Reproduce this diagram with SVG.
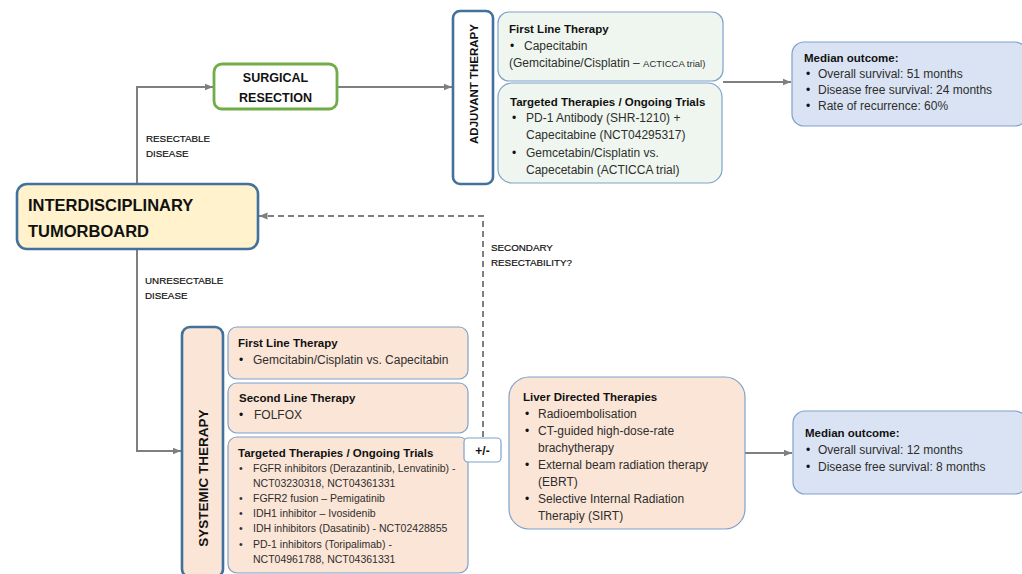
<svg xmlns="http://www.w3.org/2000/svg" width="1022" height="574" viewBox="0 0 1022 574">
<defs>
<marker id="ah" markerUnits="userSpaceOnUse" markerWidth="9" markerHeight="8" refX="8.5" refY="4" orient="auto">
<path d="M0,0.5 L8.5,4 L0,7.5 z" fill="#7f7f7f"/>
</marker>
<style>
text{font-family:"Liberation Sans",Arial,sans-serif;}
.h{font-size:11.5px;font-weight:bold;fill:#111;}
.b{font-size:12px;fill:#2e2e2e;}
.s{font-size:10.5px;fill:#2e2e2e;}
.bl{font-size:12px;fill:#111;}
.lab{font-size:9.8px;fill:#111;stroke:#111;stroke-width:0.2;}
.main{stroke:#41719c;stroke-width:2.6;}
.sub{stroke:#7fa2c9;stroke-width:1.2;}
.green{fill:#eff6ef;}
.peach{fill:#fbe5d6;}
.blue{fill:#dae3f3;}
.conn{fill:none;stroke:#7f7f7f;stroke-width:2;}
</style>
</defs>
<rect width="1022" height="574" fill="#ffffff"/>

<g id="connectors">
<path class="conn" d="M137,184 V87 H213" marker-end="url(#ah)"/>
<path class="conn" d="M337,87 H452" marker-end="url(#ah)"/>
<path class="conn" d="M723,82 H791" marker-end="url(#ah)"/>
<path class="conn" d="M137,249 V451 H181" marker-end="url(#ah)"/>
<path class="conn" d="M483,437 V216 H259" stroke-dasharray="6,4" marker-end="url(#ah)"/>
<path class="conn" d="M745,453 H792" marker-end="url(#ah)"/>
<text class="lab" x="146" y="142">RESECTABLE</text>
<text class="lab" x="146" y="157">DISEASE</text>
<text class="lab" x="145" y="284">UNRESECTABLE</text>
<text class="lab" x="145" y="299">DISEASE</text>
<text class="lab" x="491" y="251">SECONDARY</text>
<text class="lab" x="491" y="266">RESECTABILITY?</text>
</g>

<g id="tumorboard">
<rect class="main" x="17" y="184" width="241" height="65" rx="10" fill="#fff2cc"/>
<text x="28" y="211" font-size="16.5" font-weight="bold" fill="#111">INTERDISCIPLINARY</text>
<text x="28" y="237" font-size="16.5" font-weight="bold" fill="#111">TUMORBOARD</text>
</g>

<g id="surgical-resection">
<rect x="214" y="64" width="123" height="45" rx="8" fill="#ffffff" stroke="#70ad47" stroke-width="2.8"/>
<text x="275.5" y="82" font-size="12.5" font-weight="bold" fill="#111" text-anchor="middle">SURGICAL</text>
<text x="275.5" y="102" font-size="12.5" font-weight="bold" fill="#111" text-anchor="middle">RESECTION</text>
</g>

<g id="adjuvant-therapy">
<rect class="main" x="453" y="11" width="40" height="173" rx="7" fill="#ffffff"/>
<text transform="translate(477.5,84) rotate(-90)" font-size="11.5" font-weight="bold" fill="#111" text-anchor="middle">ADJUVANT THERAPY</text>
</g>

<g id="adjuvant-first-line">
<rect class="sub green" x="498" y="12" width="225" height="69" rx="11"/>
<text class="h" x="509" y="33">First Line Therapy</text>
<text class="bl" x="510" y="50">•</text>
<text class="b" x="524" y="50">Capecitabin</text>
<text class="b" x="509" y="67">(Gemcitabine/Cisplatin – <tspan font-size="9.5">ACTICCA trial)</tspan></text>
</g>

<g id="adjuvant-targeted">
<rect class="sub green" x="498" y="83" width="224" height="100" rx="14"/>
<text class="h" x="510" y="106">Targeted Therapies / Ongoing Trials</text>
<text class="bl" x="512" y="122">•</text>
<text class="b" x="526" y="122">PD-1 Antibody (SHR-1210) +</text>
<text class="b" x="526" y="139">Capecitabine (NCT04295317)</text>
<text class="bl" x="512" y="157">•</text>
<text class="b" x="526" y="157">Gemcetabin/Cisplatin vs.</text>
<text class="b" x="526" y="174">Capecetabin (ACTICCA trial)</text>
</g>

<g id="median-outcome-1">
<rect class="sub blue" x="792" y="42" width="235" height="84" rx="12"/>
<text class="h" x="804" y="62">Median outcome:</text>
<text class="bl" x="806" y="78">•</text>
<text class="b" x="818" y="78">Overall survival: 51 months</text>
<text class="bl" x="806" y="94">•</text>
<text class="b" x="818" y="94">Disease free survival: 24 months</text>
<text class="bl" x="806" y="110">•</text>
<text class="b" x="818" y="110">Rate of recurrence:  60%</text>
</g>

<g id="systemic-therapy">
<rect class="main" x="182" y="327" width="41" height="250" rx="8" fill="#fbe5d6"/>
<text transform="translate(207.5,478) rotate(-90)" font-size="13.5" font-weight="bold" fill="#111" text-anchor="middle">SYSTEMIC THERAPY</text>
</g>

<g id="systemic-first-line">
<rect class="sub peach" x="228" y="327" width="240" height="52" rx="9"/>
<text class="h" x="238" y="347">First Line Therapy</text>
<text class="bl" x="239" y="364">•</text>
<text class="b" x="253" y="364">Gemcitabin/Cisplatin vs. Capecitabin</text>
</g>

<g id="systemic-second-line">
<rect class="sub peach" x="228" y="383" width="240" height="50" rx="9"/>
<text class="h" x="239" y="402">Second Line Therapy</text>
<text class="bl" x="239" y="419">•</text>
<text class="b" x="254" y="419">FOLFOX</text>
</g>

<g id="systemic-targeted">
<rect class="sub peach" x="228" y="437" width="240" height="136" rx="9"/>
<text class="h" x="238" y="457">Targeted Therapies / Ongoing Trials</text>
<text class="s" x="239" y="472">•</text>
<text class="s" x="253" y="472">FGFR inhibitors (Derazantinib, Lenvatinib) -</text>
<text class="s" x="253" y="487">NCT03230318, NCT04361331</text>
<text class="s" x="239" y="502">•</text>
<text class="s" x="253" y="502">FGFR2 fusion  – Pemigatinib</text>
<text class="s" x="239" y="517">•</text>
<text class="s" x="253" y="517">IDH1 inhibitor  – Ivosidenib</text>
<text class="s" x="239" y="532">•</text>
<text class="s" x="253" y="532">IDH inhibitors (Dasatinib) - NCT02428855</text>
<text class="s" x="239" y="548">•</text>
<text class="s" x="253" y="548">PD-1 inhibitors (Toripalimab) -</text>
<text class="s" x="253" y="563">NCT04961788, NCT04361331</text>
</g>

<g id="plus-minus">
<rect class="sub" x="464" y="438" width="37" height="24" rx="4" fill="#ffffff"/>
<text x="482.5" y="455" font-size="12" font-weight="bold" fill="#111" text-anchor="middle">+/-</text>
</g>

<g id="liver-directed">
<rect class="sub peach" x="509" y="377" width="236" height="152" rx="20"/>
<text class="h" x="523" y="401">Liver Directed Therapies</text>
<text class="bl" x="525" y="418">•</text>
<text class="b" x="538" y="418">Radioembolisation</text>
<text class="bl" x="525" y="435">•</text>
<text class="b" x="538" y="435">CT-guided high-dose-rate</text>
<text class="b" x="538" y="452">brachytherapy</text>
<text class="bl" x="525" y="469">•</text>
<text class="b" x="538" y="469">External beam radiation therapy</text>
<text class="b" x="538" y="486">(EBRT)</text>
<text class="bl" x="525" y="503">•</text>
<text class="b" x="538" y="503">Selective Internal Radiation</text>
<text class="b" x="538" y="520">Therapiy (SIRT)</text>
</g>

<g id="median-outcome-2">
<rect class="sub blue" x="793" y="411" width="234" height="83" rx="12"/>
<text class="h" x="805" y="437">Median outcome:</text>
<text class="bl" x="806" y="454">•</text>
<text class="b" x="818" y="454">Overall survival: 12 months</text>
<text class="bl" x="806" y="471">•</text>
<text class="b" x="818" y="471">Disease free survival: 8 months</text>
</g>
</svg>
